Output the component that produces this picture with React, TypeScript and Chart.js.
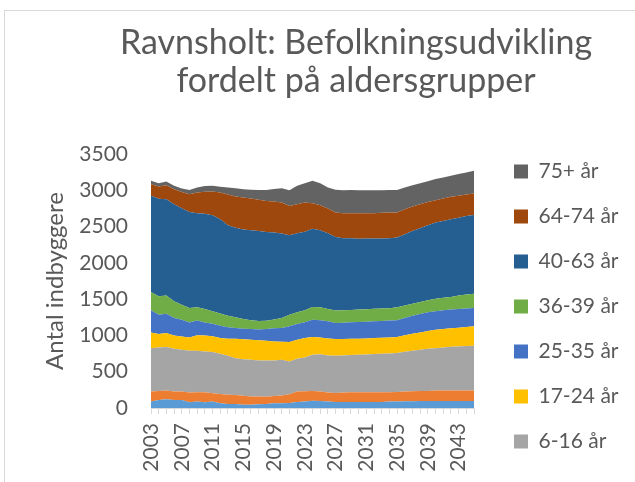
import React, { useEffect, useRef } from 'react';
import { Chart, registerables } from 'chart.js';

Chart.register(...registerables);

const years = [
  '2003', '2004', '2005', '2006', '2007', '2008', '2009', '2010', '2011', '2012',
  '2013', '2014', '2015', '2016', '2017', '2018', '2019', '2020', '2021', '2022',
  '2023', '2024', '2025', '2026', '2027', '2028', '2029', '2030', '2031', '2032',
  '2033', '2034', '2035', '2036', '2037', '2038', '2039', '2040', '2041', '2042',
  '2043', '2044', '2045',
];

const shownYearLabels = ['2003', '2007', '2011', '2015', '2019', '2023', '2027', '2031', '2035', '2039', '2043'];

const age0_2 = [88, 111, 120, 111, 111, 78, 88, 78, 88, 65, 55, 55, 46, 46, 51, 55, 65, 65, 69, 83, 88, 101, 97, 88, 83, 83, 83, 83, 83, 83, 83, 88, 88, 92, 92, 97, 97, 97, 97, 97, 97, 97, 97];
const age3_5 = [138, 124, 120, 115, 115, 134, 129, 138, 115, 129, 129, 124, 124, 111, 106, 101, 101, 106, 120, 143, 143, 134, 129, 124, 124, 129, 134, 134, 134, 134, 134, 129, 134, 134, 138, 138, 138, 143, 143, 143, 143, 143, 143];
const age6_16 = [599, 599, 599, 590, 576, 576, 572, 562, 567, 553, 535, 507, 502, 507, 498, 498, 489, 493, 452, 452, 466, 498, 516, 512, 512, 512, 512, 516, 521, 526, 530, 535, 535, 549, 558, 567, 581, 585, 595, 604, 609, 613, 618];
const age17_24 = [217, 184, 194, 184, 184, 184, 212, 221, 217, 217, 235, 267, 277, 277, 277, 272, 263, 249, 267, 263, 267, 244, 231, 235, 231, 226, 226, 221, 221, 221, 221, 221, 221, 226, 235, 240, 244, 254, 254, 254, 258, 263, 267];
const age25_35 = [304, 267, 267, 240, 231, 207, 203, 180, 175, 171, 157, 148, 143, 148, 148, 161, 180, 189, 217, 217, 217, 240, 235, 235, 221, 226, 226, 231, 231, 231, 231, 231, 231, 240, 249, 254, 258, 254, 258, 258, 258, 254, 254];
const age36_39 = [254, 254, 249, 231, 207, 198, 184, 184, 171, 166, 161, 148, 134, 120, 120, 115, 120, 138, 161, 161, 166, 175, 180, 171, 171, 171, 171, 171, 171, 171, 171, 171, 180, 171, 166, 166, 166, 171, 171, 175, 184, 194, 194];
const age40_63 = [1323, 1346, 1328, 1337, 1328, 1323, 1295, 1314, 1323, 1300, 1245, 1235, 1235, 1240, 1240, 1222, 1199, 1166, 1093, 1088, 1083, 1079, 1060, 1042, 1014, 991, 987, 977, 973, 968, 964, 964, 959, 982, 1000, 1014, 1033, 1051, 1060, 1070, 1074, 1083, 1088];
const age64_74 = [161, 166, 194, 207, 226, 244, 286, 304, 327, 369, 424, 429, 438, 438, 429, 429, 429, 424, 406, 401, 401, 350, 346, 341, 337, 346, 346, 350, 350, 350, 355, 355, 346, 346, 337, 332, 323, 309, 309, 309, 300, 295, 295];
const age75plus = [46, 46, 51, 46, 46, 60, 69, 78, 78, 78, 97, 115, 115, 120, 134, 152, 171, 198, 217, 254, 267, 309, 304, 290, 313, 318, 318, 318, 318, 318, 313, 309, 309, 300, 295, 290, 286, 290, 290, 290, 300, 304, 313];

const seriesNames = ['0-2 år', '3-5 år', '6-16 år', '17-24 år', '25-35 år', '36-39 år', '40-63 år', '64-74 år', '75+ år'];
const seriesColors = ['#5B9BD5', '#ED7D31', '#A5A5A5', '#FFC000', '#4472C4', '#70AD47', '#255E91', '#9E480E', '#636363'];
const hiddenLegendCount = 2;

const titleLines = ['Ravnsholt: Befolkningsudvikling', 'fordelt på aldersgrupper'];
const yAxisTitle = 'Antal indbyggere';

const FONT = 'Lato, "Open Sans", sans-serif';
const TEXT_COLOR = '#595959';
const LEGEND_FONT_SIZE = 21;
const LEGEND_BOX = 14;
const LEGEND_PAD = 24;
const LEGEND_LEFT = 490;
const TITLE_CENTER_X = 356;

const framePlugin = {
  id: 'frame',
  beforeDraw(chart: any) {
    const ctx = chart.ctx;
    ctx.save();
    ctx.fillStyle = '#ffffff';
    ctx.fillRect(0, 0, chart.width, chart.height);
    ctx.strokeStyle = '#d9d9d9';
    ctx.lineWidth = 1;
    ctx.strokeRect(4.5, 10.5, 800, 800);
    ctx.restore();
  },
};

// centre the (built-in) title block over the same x as in the reference
const titlePlacePlugin = {
  id: 'titlePlace',
  afterLayout(chart: any) {
    const t = chart.titleBlock;
    if (!t) return;
    const half = 300;
    t.left = TITLE_CENTER_X - half;
    t.right = TITLE_CENTER_X + half;
    t.width = half * 2;
  },
};

export default function App() {
  const canvasRef = useRef<HTMLCanvasElement | null>(null);

  useEffect(() => {
    if (!canvasRef.current) return;
    const allSeries = [age0_2, age3_5, age6_16, age17_24, age25_35, age36_39, age40_63, age64_74, age75plus];
    const datasets = allSeries.map((data, i) => ({
      label: seriesNames[i],
      data,
      backgroundColor: seriesColors[i],
      borderColor: seriesColors[i],
      borderWidth: 0,
      pointRadius: 0,
      pointHoverRadius: 0,
      fill: i === 0 ? 'origin' : '-1',
      tension: 0,
    }));

    // measure the legend text so the legend starts at a fixed x
    const mctx = canvasRef.current.getContext('2d') as CanvasRenderingContext2D;
    mctx.save();
    mctx.font = `${LEGEND_FONT_SIZE}px ${FONT}`;
    let maxText = 0;
    seriesNames.slice(hiddenLegendCount).forEach((n) => {
      maxText = Math.max(maxText, mctx.measureText(n).width);
    });
    mctx.restore();
    const legendWidth = LEGEND_PAD + LEGEND_BOX + LEGEND_FONT_SIZE / 2 + maxText + 10;
    const rightPad = Math.max(0, 635 - LEGEND_LEFT - legendWidth);

    const chart = new Chart(canvasRef.current, {
      type: 'line',
      data: { labels: years, datasets },
      plugins: [framePlugin, titlePlacePlugin],
      options: {
        animation: false,
        responsive: false,
        devicePixelRatio: 1,
        layout: { padding: { top: 0, left: 0, right: rightPad, bottom: 6 } },
        plugins: {
          tooltip: { enabled: false },
          title: {
            display: true,
            text: titleLines,
            fullSize: true,
            color: TEXT_COLOR,
            font: { family: FONT, size: 34, weight: 'normal', lineHeight: '38px' },
            padding: { top: 24, bottom: 54 },
          },
          legend: {
            position: 'right',
            align: 'end',
            reverse: true,
            maxWidth: 300,
            labels: {
              boxWidth: LEGEND_BOX,
              boxHeight: LEGEND_BOX,
              padding: LEGEND_PAD,
              color: TEXT_COLOR,
              font: { family: FONT, size: LEGEND_FONT_SIZE },
              filter: (item: any) => item.datasetIndex >= hiddenLegendCount,
            },
          },
        },
        scales: {
          x: {
            type: 'category',
            grid: {
              display: true,
              drawOnChartArea: false,
              drawTicks: true,
              tickLength: 6,
              color: '#d9d9d9',
            },
            border: { display: true, color: '#d9d9d9' },
            ticks: {
              autoSkip: false,
              minRotation: 90,
              maxRotation: 90,
              padding: 9,
              color: TEXT_COLOR,
              font: { family: FONT, size: 21 },
              callback: (_v: any, idx: number) => (shownYearLabels.includes(years[idx]) ? years[idx] : ''),
            },
            afterFit: (s: any) => { s.height = 68; },
          },
          y: {
            type: 'linear',
            stacked: true,
            min: 0,
            max: 3500,
            grid: { display: false, drawTicks: false },
            border: { display: false },
            ticks: {
              stepSize: 500,
              padding: 23,
              color: TEXT_COLOR,
              font: { family: FONT, size: 21 },
              callback: (v: any) => String(v),
            },
            title: {
              display: true,
              text: yAxisTitle,
              color: TEXT_COLOR,
              font: { family: FONT, size: 24 },
              padding: { top: 41, bottom: 0 },
            },
            afterFit: (s: any) => { s.width = 151; },
          },
          spacer: {
            type: 'linear',
            position: 'right',
            display: true,
            grid: { display: false, drawTicks: false },
            border: { display: false },
            ticks: { display: false },
            afterFit: (s: any) => { s.width = 16; },
          },
        },
      },
    } as any);

    return () => chart.destroy();
  }, []);

  return (
    <div style={{ position: 'absolute', left: 0, top: 0, width: 635, height: 482, background: '#fff' }}>
      <canvas ref={canvasRef} width={635} height={482} style={{ display: 'block', width: 635, height: 482 }} />
    </div>
  );
}
